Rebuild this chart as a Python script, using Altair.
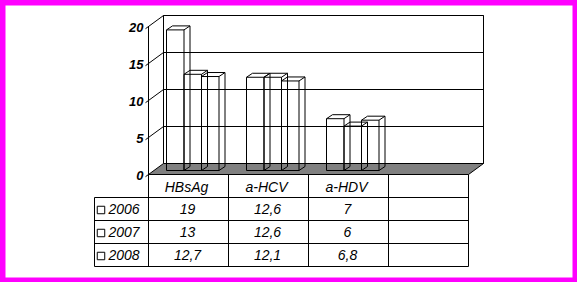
import altair as alt
import pandas as pd

# ---------------- data ----------------
CATEGORIES = ["HBsAg", "a-HCV", "a-HDV", ""]
YEARS = ["2006", "2007", "2008"]
VALUES_2006 = [19, 12.6, 7]
VALUES_2007 = [13, 12.6, 6]
VALUES_2008 = [12.7, 12.1, 6.8]
SERIES = [VALUES_2006, VALUES_2007, VALUES_2008]
TICKS = [0, 5, 10, 15, 20]

# ---------------- layout (pixels) ----------------
PAD = 5
W, H = 567, 272
X0 = 148.5        # canvas x of the front-left corner of the floor
CW = 80.0         # pixels per category
Y0 = 174.5        # canvas y of value 0 on the front plane
K = 7.4           # pixels per unit
RH = 23.0         # table row height
DX, DY = 15, 11   # depth of the floor / walls
BX, BY = 5.5, -4  # shift of the bar front faces
BDX, BDY = 6, -4  # depth of a bar
GAP = 12.5
BW = 17.5
LEG_LEFT = 94.5
FONT = "Liberation Sans"

NC = len(CATEGORIES)
TOP = TICKS[-1]
LEG_X = (LEG_LEFT - X0) / CW

XS = alt.Scale(domain=[(PAD - X0) / CW, (PAD + W - X0) / CW], nice=False, zero=False)
VS = alt.Scale(domain=[(Y0 - PAD - H) / K, (Y0 - PAD) / K], nice=False, zero=False)
RS = alt.Scale(domain=[(PAD - Y0) / RH, (PAD + H - Y0) / RH], nice=False, zero=False, reverse=True)


def X(f):
    return alt.X(f"{f}:Q", scale=XS, axis=None)


def X2(f):
    return alt.X2(f"{f}:Q")


def YV(f):
    return alt.Y(f"{f}:Q", scale=VS, axis=None)


def YR(f):
    return alt.Y(f"{f}:Q", scale=RS, axis=None)


def Y2(f):
    return alt.Y2(f"{f}:Q")


# ---------------- frame: walls, floor, grid ----------------
wall_df = pd.DataFrame({"xa": [0], "xb": [NC], "ya": [0], "yb": [TOP]})
back_wall = alt.Chart(wall_df).mark_rect(
    fill="white", stroke="black", strokeWidth=1,
    xOffset=DX, x2Offset=DX, yOffset=-DY, y2Offset=-DY
).encode(x=X("xa"), x2=X2("xb"), y=YV("ya"), y2=Y2("yb"))

dxu = DX / CW
dyu = DY / K
floor_df = pd.DataFrame({
    "x": [0, dxu, NC, NC + dxu],
    "top": [0, dyu, dyu, dyu],
    "bot": [0, 0, 0, dyu],
})
floor = alt.Chart(floor_df).mark_area(color="#808080", opacity=1).encode(
    x=X("x"), y=YV("top"), y2=Y2("bot")
)

tick_df = pd.DataFrame({"t": TICKS, "xa": [0] * len(TICKS), "xb": [NC] * len(TICKS),
                        "label": [str(t) for t in TICKS]})
grid = alt.Chart(tick_df).mark_rule(
    color="black", strokeWidth=1,
    xOffset=DX, x2Offset=DX, yOffset=-DY, y2Offset=-DY
).encode(x=X("xa"), x2=X2("xb"), y=YV("t"), y2=Y2("t"))

left_diag = alt.Chart(tick_df).mark_rule(
    color="black", strokeWidth=1,
    xOffset=-3, yOffset=2.2, x2Offset=DX, y2Offset=-DY
).encode(x=X("xa"), x2=X2("xa"), y=YV("t"), y2=Y2("t"))

edge_df = pd.DataFrame({"xa": [0], "xb": [NC], "ya": [0], "yb": [TOP]})
left_edge = alt.Chart(edge_df).mark_rule(color="black", strokeWidth=1).encode(
    x=X("xa"), x2=X2("xa"), y=YV("ya"), y2=Y2("yb"))
front_edge = alt.Chart(edge_df).mark_rule(color="black", strokeWidth=1).encode(
    x=X("xa"), x2=X2("xb"), y=YV("ya"), y2=Y2("ya"))
right_diag = alt.Chart(edge_df).mark_rule(
    color="black", strokeWidth=1, x2Offset=DX, y2Offset=-DY
).encode(x=X("xb"), x2=X2("xb"), y=YV("ya"), y2=Y2("ya"))

tick_labels = alt.Chart(tick_df).mark_text(
    align="right", baseline="middle", dx=-5, dy=1.5,
    font=FONT, fontSize=13, fontWeight="bold", fontStyle="italic", color="black"
).encode(x=X("xa"), y=YV("t"), text="label:N")

# ---------------- bars (wireframe boxes) ----------------
rows = []
for si, (year, vals) in enumerate(zip(YEARS, SERIES)):
    for ci, v in enumerate(vals):
        rows.append({"cat": CATEGORIES[ci], "year": year, "ci": ci, "si": si, "v": v})
bars = pd.DataFrame(rows)
bars["x0"] = bars["ci"] + (GAP + bars["si"] * BW) / CW
bars["x1"] = bars["x0"] + BW / CW
bars["base"] = 0

base_bar = alt.Chart(bars)
bar_front = base_bar.mark_rect(
    fill="transparent", stroke="black", strokeWidth=1,
    xOffset=BX, x2Offset=BX, yOffset=BY, y2Offset=BY
).encode(x=X("x0"), x2=X2("x1"), y=YV("base"), y2=Y2("v"))
bar_back_top = base_bar.mark_rule(
    color="black", strokeWidth=1,
    xOffset=BX + BDX, x2Offset=BX + BDX, yOffset=BY + BDY, y2Offset=BY + BDY
).encode(x=X("x0"), x2=X2("x1"), y=YV("v"), y2=Y2("v"))
bar_back_right = base_bar.mark_rule(
    color="black", strokeWidth=1,
    xOffset=BX + BDX, x2Offset=BX + BDX, yOffset=BY + BDY, y2Offset=BY + BDY
).encode(x=X("x1"), x2=X2("x1"), y=YV("v"), y2=Y2("base"))


def bar_diag(xf, yf):
    return base_bar.mark_rule(
        color="black", strokeWidth=1,
        xOffset=BX, yOffset=BY, x2Offset=BX + BDX, y2Offset=BY + BDY
    ).encode(x=X(xf), x2=X2(xf), y=YV(yf), y2=Y2(yf))


bar_layers = [bar_front, bar_back_top, bar_back_right,
              bar_diag("x0", "v"), bar_diag("x1", "v"), bar_diag("x1", "base")]

plot = alt.layer(back_wall, floor, grid, left_diag, left_edge, right_diag,
                 front_edge, *bar_layers, tick_labels)

# ---------------- data table ----------------
nrow = len(YEARS) + 1
h_df = pd.DataFrame({"r": list(range(1, nrow + 1)),
                     "xa": [LEG_X] * nrow, "xb": [NC] * nrow})
hlines = alt.Chart(h_df).mark_rule(color="black", strokeWidth=1).encode(
    x=X("xa"), x2=X2("xb"), y=YR("r"), y2=Y2("r"))

v_df = pd.DataFrame({"x": [LEG_X] + list(range(NC + 1)),
                     "ra": [1] + [0] * (NC + 1),
                     "rb": [nrow] * (NC + 2)})
vlines = alt.Chart(v_df).mark_rule(color="black", strokeWidth=1).encode(
    x=X("x"), x2=X2("x"), y=YR("ra"), y2=Y2("rb"))

head_df = pd.DataFrame({"cat": CATEGORIES, "x": [i + 0.5 for i in range(NC)],
                        "r": [0.5] * NC})
header = alt.Chart(head_df).mark_text(
    align="center", baseline="middle", dx=-2, dy=2,
    font=FONT, fontSize=14, fontStyle="italic", color="black"
).encode(x=X("x"), y=YR("r"), text="cat:N")

leg_df = pd.DataFrame({"year": YEARS, "x": [LEG_X] * len(YEARS),
                       "r": [i + 1.5 for i in range(len(YEARS))]})
squares = alt.Chart(leg_df).mark_point(
    shape="square", size=56, filled=False, fill="white", fillOpacity=1,
    stroke="black", strokeWidth=1, opacity=1, xOffset=6.5, yOffset=1
).encode(x=X("x"), y=YR("r"))
years = alt.Chart(leg_df).mark_text(
    align="left", baseline="middle", dx=14, dy=1,
    font=FONT, fontSize=14, fontStyle="italic", color="black"
).encode(x=X("x"), y=YR("r"), text="year:N")

vals = bars.copy()
vals["x"] = vals["ci"] + 0.5
vals["r"] = vals["si"] + 1.5
vals["label"] = [f"{v:g}".replace(".", ",") for v in vals["v"]]
values = alt.Chart(vals).mark_text(
    align="center", baseline="middle", dx=-1, dy=1,
    font=FONT, fontSize=14, fontStyle="italic", color="black"
).encode(x=X("x"), y=YR("r"), text="label:N")

table = alt.layer(hlines, vlines, header, squares, years, values)

chart = alt.layer(plot, table).resolve_scale(y="independent").properties(
    width=W, height=H,
    padding={"left": PAD, "top": PAD, "right": PAD, "bottom": PAD},
    autosize=alt.AutoSizeParams(type="none"),
    background="#FF00FF",
).configure_view(fill="white", stroke="transparent")

chart.save("out.html", embed_options={"renderer": "svg", "actions": False})
